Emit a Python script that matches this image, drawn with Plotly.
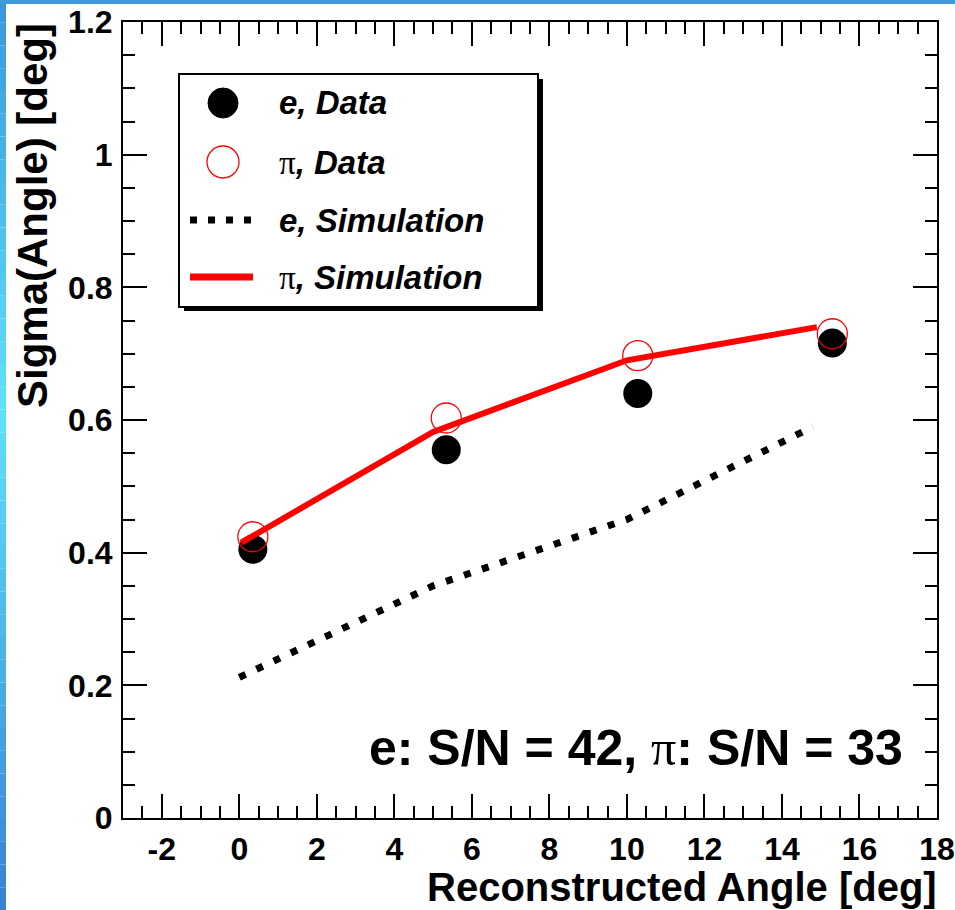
import plotly.graph_objects as go

# ---------------- data ----------------
x_e_data = [0.35, 5.34, 10.28, 15.30]
y_e_data = [0.405, 0.555, 0.640, 0.716]

x_pi_data = [0.35, 5.34, 10.28, 15.30]
y_pi_data = [0.424, 0.603, 0.697, 0.730]

x_e_sim = [0.0, 5.0, 10.0, 14.8]
y_e_sim = [0.212, 0.350, 0.450, 0.590]

x_pi_sim = [0.05, 5.0, 10.0, 14.9]
y_pi_sim = [0.415, 0.582, 0.690, 0.740]

x_tickvals = [-2, 0, 2, 4, 6, 8, 10, 12, 14, 16, 18]
x_ticktext = ["-2", "0", "2", "4", "6", "8", "10", "12", "14", "16", "18"]

legend_labels = ["e, Data", "π, Data", "e, Simulation", "π, Simulation"]
sn_text = "e: S/N = 42, π: S/N = 33"

# ---------------- layout geometry ----------------
W, H = 955, 910
L, R, T, B = 123, 937, 22, 818

def px(x):
    return (x - L) / (R - L)

def py(y):
    return (B - y) / (B - T)

FONT = "Liberation Sans, Arial, sans-serif"
SERIF = "Liberation Serif, DejaVu Serif, serif"

fig = go.Figure()
fig.add_trace(go.Scatter(x=x_e_data, y=y_e_data, mode="markers",
                         marker=dict(symbol="circle", size=29, color="black"),
                         showlegend=False))
fig.add_trace(go.Scatter(x=x_pi_data, y=y_pi_data, mode="markers",
                         marker=dict(symbol="circle-open", size=30, color="red",
                                     line=dict(color="red", width=1.3)),
                         showlegend=False))
fig.add_trace(go.Scatter(x=x_e_sim, y=y_e_sim, mode="lines",
                         line=dict(color="black", width=7, dash="7px,12px"),
                         showlegend=False))
fig.add_trace(go.Scatter(x=x_pi_sim, y=y_pi_sim, mode="lines",
                         line=dict(color="red", width=6),
                         showlegend=False))

shapes = []
annotations = []

# blue gradient frame (left and top strips)
def lerp(c1, c2, t):
    return tuple(int(round(a + (b - a) * t)) for a, b in zip(c1, c2))

top_c = (58, 150, 216)
mid_c = (94, 226, 250)
bot_c = (56, 128, 208)
n = 40
for i in range(n):
    y0 = H * i / n
    y1 = H * (i + 1) / n
    t = (i + 0.5) / n
    if t < 0.45:
        c = lerp(top_c, mid_c, t / 0.45)
    else:
        c = lerp(mid_c, bot_c, (t - 0.45) / 0.55)
    shapes.append(dict(type="rect", xref="paper", yref="paper",
                       x0=px(0), x1=px(6), y0=py(y1), y1=py(y0),
                       fillcolor="rgb(%d,%d,%d)" % c, line=dict(width=0), layer="above"))
shapes.append(dict(type="rect", xref="paper", yref="paper",
                   x0=px(0), x1=px(W), y0=py(4), y1=py(0),
                   fillcolor="rgb(62,154,216)", line=dict(width=0), layer="above"))

# legend box with shadow
shapes.append(dict(type="rect", xref="paper", yref="paper",
                   x0=px(184), x1=px(543), y0=py(311), y1=py(79),
                   fillcolor="black", line=dict(width=0), layer="above"))
shapes.append(dict(type="rect", xref="paper", yref="paper",
                   x0=px(179), x1=px(538), y0=py(307), y1=py(74),
                   fillcolor="white", line=dict(color="black", width=2), layer="above"))

rows = [103, 162, 220, 277]
# glyphs
shapes.append(dict(type="circle", xref="paper", yref="paper",
                   x0=px(208), x1=px(238), y0=py(rows[0] + 15), y1=py(rows[0] - 15),
                   fillcolor="black", line=dict(color="black", width=1), layer="above"))
shapes.append(dict(type="circle", xref="paper", yref="paper",
                   x0=px(207), x1=px(239), y0=py(rows[1] + 16), y1=py(rows[1] - 16),
                   fillcolor="rgba(0,0,0,0)", line=dict(color="red", width=1.3), layer="above"))
shapes.append(dict(type="line", xref="paper", yref="paper",
                   x0=px(190), x1=px(254), y0=py(rows[2]), y1=py(rows[2]),
                   line=dict(color="black", width=7, dash="7px,11px"), layer="above"))
shapes.append(dict(type="line", xref="paper", yref="paper",
                   x0=px(190), x1=px(253), y0=py(rows[3]), y1=py(rows[3]),
                   line=dict(color="red", width=7), layer="above"))

for lab, r in zip(legend_labels, rows):
    if lab.startswith("π"):
        txt = ("<span style='font-family:%s;font-weight:normal;font-style:normal'>π</span>"
               "<i>%s</i>" % (SERIF, lab[1:]))
    else:
        txt = "<i>%s</i>" % lab
    annotations.append(dict(text=txt, xref="paper", yref="paper", x=px(277), y=py(r),
                            xanchor="left", yanchor="middle", showarrow=False,
                            font=dict(family=FONT, size=33, color="black", weight="bold")))

# S/N text
sn_html = ("e: S/N = 42, <span style='font-family:%s;font-weight:normal'>π</span>: S/N = 33" % SERIF)
annotations.append(dict(text=sn_html, xref="paper", yref="paper", x=px(905), y=py(748),
                        xanchor="right", yanchor="middle", showarrow=False,
                        font=dict(family=FONT, size=50, color="black", weight="bold")))

# axis titles
annotations.append(dict(text="Reconstructed Angle [deg]", xref="paper", yref="paper",
                        x=px(939), y=py(887), xanchor="right", yanchor="middle", showarrow=False,
                        font=dict(family=FONT, size=40, color="black", weight="bold")))
annotations.append(dict(text="Sigma(Angle) [deg]", xref="paper", yref="paper",
                        x=px(32), y=py(216), xanchor="center", yanchor="middle", showarrow=False,
                        textangle=-90,
                        font=dict(family=FONT, size=42, color="black", weight="bold")))

axis_common = dict(showline=True, linecolor="black", linewidth=2, mirror="ticks",
                   ticks="inside", ticklen=24, tickwidth=2, tickcolor="black",
                   showgrid=False, zeroline=False, automargin=False,
                   ticklabeloverflow="allow",
                   tickfont=dict(family=FONT, size=32, color="black", weight="bold"))

fig.update_layout(
    width=W, height=H,
    margin=dict(l=L, r=W - R, t=T, b=H - B, pad=0, autoexpand=False),
    paper_bgcolor="white", plot_bgcolor="white",
    showlegend=False,
    xaxis=dict(range=[-3, 18], tickmode="array", tickvals=x_tickvals, ticktext=x_ticktext,
               ticklabelstandoff=2,
               minor=dict(ticks="inside", ticklen=12, tickwidth=2, tickcolor="black",
                          tickmode="linear", tick0=0, dtick=0.5, showgrid=False),
               **axis_common),
    yaxis=dict(range=[0, 1.2], tickmode="linear", tick0=0, dtick=0.2,
               ticklabelstandoff=2,
               minor=dict(ticks="inside", ticklen=12, tickwidth=2, tickcolor="black",
                          tickmode="linear", tick0=0, dtick=0.05, showgrid=False),
               **axis_common),
    shapes=shapes,
    annotations=annotations,
)
fig.update_layout(font=dict(family=FONT))

fig.write_html("out.html")
